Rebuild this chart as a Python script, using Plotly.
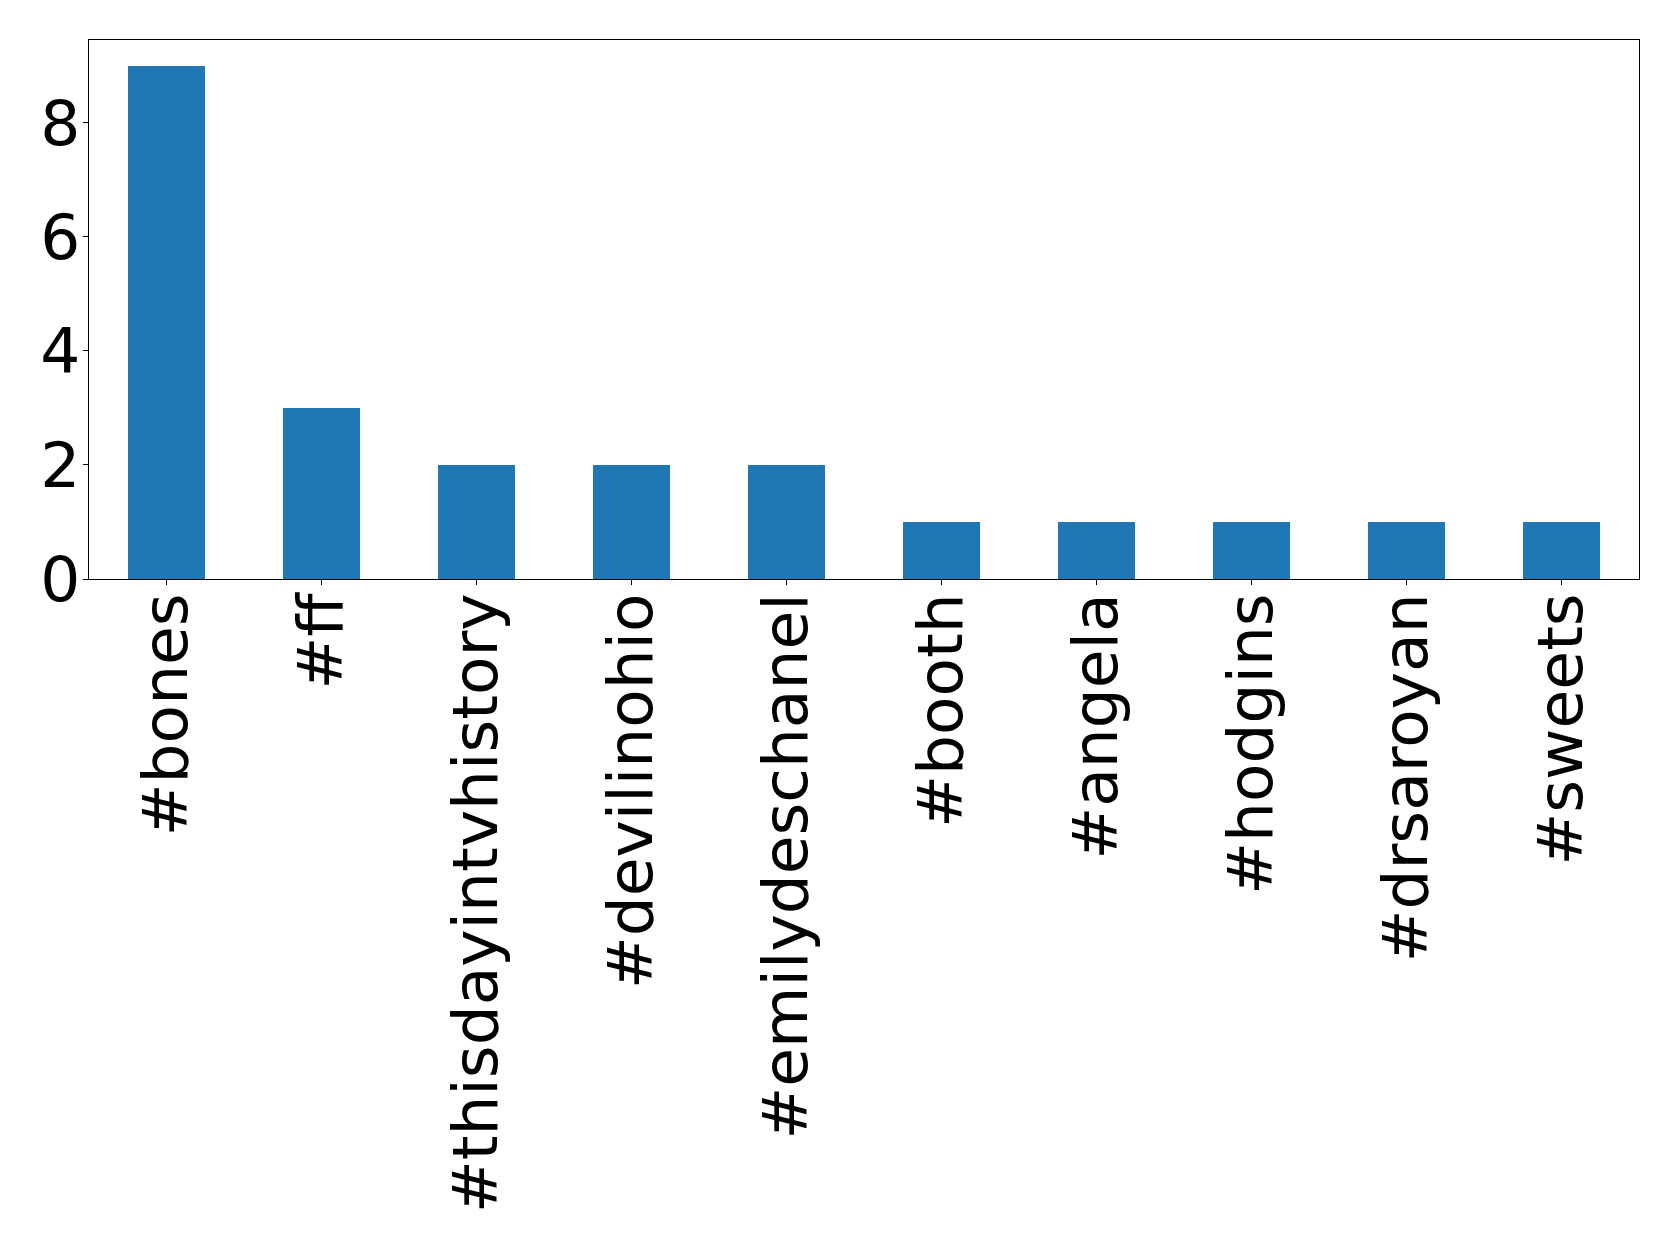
import plotly.graph_objects as go

# Hashtag counts
hashtags = ["#bones", "#ff", "#thisdayintvhistory", "#devilinohio", "#emilydeschanel",
            "#booth", "#angela", "#hodgins", "#drsaroyan", "#sweets"]
counts = [9, 3, 2, 2, 2, 1, 1, 1, 1, 1]

positions = list(range(len(hashtags)))

fig = go.Figure(
    go.Bar(
        x=positions,
        y=counts,
        width=0.5,
        marker=dict(color="#1f77b4", line=dict(width=0)),
    )
)

axis_common = dict(
    showline=True,
    linecolor="black",
    linewidth=1.3,
    mirror=True,
    ticks="outside",
    ticklen=5,
    tickwidth=1.3,
    tickcolor="black",
    showgrid=False,
    zeroline=False,
    tickfont=dict(family="DejaVu Sans", size=63, color="black"),
)

fig.update_xaxes(
    range=[-0.5, len(hashtags) - 0.5],
    tickmode="array",
    tickvals=positions,
    ticktext=hashtags,
    tickangle=-90,
    ticklabelstandoff=-17,
    **axis_common,
)
fig.update_yaxes(
    range=[0, 9.45],
    tickmode="array",
    tickvals=[0, 2, 4, 6, 8],
    ticktext=["0", "2", "4", "6", "8"],
    ticklabelstandoff=-10,
    **axis_common,
)

fig.update_layout(
    width=1679,
    height=1243,
    margin=dict(l=89, r=40, t=40, b=664, autoexpand=False),
    paper_bgcolor="white",
    plot_bgcolor="white",
    showlegend=False,
    bargap=0,
)

fig.write_html("out.html")
